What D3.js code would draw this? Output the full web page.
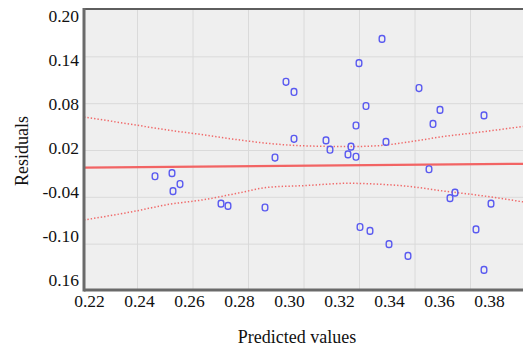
<!DOCTYPE html>
<html>
<head>
<meta charset="utf-8">
<script src="https://cdn.jsdelivr.net/npm/d3@7"></script>
<style>
  html, body { margin: 0; padding: 0; background: #ffffff; }
  svg { display: block; }
  text { font-family: "Liberation Serif", "Times New Roman", serif; fill: #111; }
</style>
</head>
<body>
<svg id="chart" width="523" height="350"></svg>
<script>
// Residuals vs predicted values
const predicted = [0.2464, 0.2532, 0.2536, 0.2564, 0.2728, 0.2756, 0.2904, 0.2944, 0.2988, 0.302,
  0.302, 0.3148, 0.3164, 0.3236, 0.3248, 0.3268, 0.3268, 0.328, 0.3308, 0.3372,
  0.3388, 0.352, 0.356, 0.3576, 0.3604, 0.378, 0.3284, 0.3324, 0.34, 0.3476,
  0.3644, 0.3664, 0.3748, 0.378, 0.3808];
const residuals = [-0.013, -0.009, -0.032, -0.023, -0.048, -0.051, -0.053, 0.011, 0.108, 0.095,
  0.035, 0.033, 0.021, 0.015, 0.025, 0.012, 0.052, 0.132, 0.077, 0.163,
  0.031, 0.100, -0.004, 0.054, 0.072, 0.065, -0.078, -0.083, -0.100, -0.115,
  -0.041, -0.034, -0.081, -0.133, -0.048];

// Fitted line and its confidence band
const fitX = [0.218, 0.394];
const fitY = [-0.002, 0.003];
const bandX = [0.218, 0.238, 0.252, 0.266, 0.279, 0.292, 0.306, 0.324, 0.335, 0.348, 0.362, 0.375, 0.394];
const bandUpper = [0.063, 0.053, 0.046, 0.040, 0.034, 0.029, 0.026, 0.025, 0.026, 0.031, 0.038, 0.043, 0.051];
const bandLower = [-0.069, -0.058, -0.049, -0.043, -0.035, -0.027, -0.025, -0.022, -0.023, -0.026, -0.032, -0.037, -0.046];

// Axis ticks
const xTicks = [0.22, 0.24, 0.26, 0.28, 0.30, 0.32, 0.34, 0.36, 0.38];
const xTickLabels = ["0.22", "0.24", "0.26", "0.28", "0.30", "0.32", "0.34", "0.36", "0.38"];
const yTicks = [0.20, 0.14, 0.08, 0.02, -0.04, -0.10, -0.16];
const yTickLabels = ["0.20", "0.14", "0.08", "0.02", "-0.04", "-0.10", "0.16"];
const gridX = [0.24, 0.26, 0.28, 0.30, 0.32, 0.34, 0.36];
const gridY = [0.14, 0.08, 0.02, -0.04, -0.10];

const svg = d3.select("#chart");
const plot = { left: 84, top: 9, right: 523, bottom: 290 };

const x = d3.scaleLinear().domain([0.22, 0.38]).range([89, 489]);
const xGrid = d3.scaleLinear().domain([0.22, 0.38]).range([82, 526]);
const y = d3.scaleLinear().domain([-0.16, 0.20]).range([291, 10]);
const yLabel = d3.scaleLinear().domain([-0.16, 0.20]).range([279.5, 15.5]);

const defs = svg.append("defs");
defs.append("clipPath").attr("id", "plotClip")
  .append("rect")
  .attr("x", plot.left).attr("y", plot.top)
  .attr("width", plot.right - plot.left).attr("height", plot.bottom - plot.top);

// plot background
svg.append("rect")
  .attr("x", plot.left).attr("y", plot.top)
  .attr("width", plot.right - plot.left).attr("height", plot.bottom - plot.top)
  .attr("fill", "#efefef");

const inner = svg.append("g").attr("clip-path", "url(#plotClip)");

// grid
inner.append("g").selectAll("line.gx").data(gridX).join("line")
  .attr("x1", d => xGrid(d)).attr("x2", d => xGrid(d))
  .attr("y1", plot.top).attr("y2", plot.bottom)
  .attr("stroke", "#dadada").attr("stroke-width", 1);
inner.append("g").selectAll("line.gy").data(gridY).join("line")
  .attr("x1", plot.left).attr("x2", plot.right)
  .attr("y1", d => y(d)).attr("y2", d => y(d))
  .attr("stroke", "#dadada").attr("stroke-width", 1);

// confidence band (dotted)
const bandLine = (vals) => d3.line()
  .x((d, i) => x(bandX[i]))
  .y(d => y(d))
  .curve(d3.curveMonotoneX)(vals);
[bandUpper, bandLower].forEach(vals => {
  inner.append("path")
    .attr("d", bandLine(vals))
    .attr("fill", "none")
    .attr("stroke", "#f06a6a")
    .attr("stroke-width", 1.5)
    .attr("stroke-dasharray", "1.4,2");
});

// fitted line
inner.append("path")
  .attr("d", d3.line().x((d, i) => x(fitX[i])).y(d => y(d))(fitY))
  .attr("fill", "none")
  .attr("stroke", "#f26464")
  .attr("stroke-width", 2.2);

// residual points
inner.append("g").selectAll("rect").data(predicted).join("rect")
  .attr("x", d => x(d) - 2.8)
  .attr("y", (d, i) => y(residuals[i]) - 3.4)
  .attr("width", 5.6).attr("height", 6.8)
  .attr("rx", 2.4).attr("ry", 2.6)
  .attr("fill", "none")
  .attr("stroke", "#5a5af0")
  .attr("stroke-width", 1.4);

// frame
svg.append("line").attr("x1", plot.left).attr("x2", plot.right)
  .attr("y1", plot.top).attr("y2", plot.top)
  .attr("stroke", "#5e5e5e").attr("stroke-width", 2);
svg.append("line").attr("x1", plot.left).attr("x2", plot.right)
  .attr("y1", plot.bottom).attr("y2", plot.bottom)
  .attr("stroke", "#6a6a6a").attr("stroke-width", 3);
svg.append("line").attr("x1", plot.left).attr("x2", plot.left)
  .attr("y1", plot.top - 1).attr("y2", plot.bottom + 1.5)
  .attr("stroke", "#6a6a6a").attr("stroke-width", 3);

// axes (labels only)
const yAxis = d3.axisLeft(yLabel).tickValues(yTicks)
  .tickFormat((d, i) => yTickLabels[i]).tickSize(0).tickPadding(0);
const gy = svg.append("g").attr("transform", "translate(79,0)").call(yAxis);
gy.select(".domain").remove();
gy.selectAll("text").attr("font-size", 17.5).attr("font-family", "Liberation Serif").attr("fill", "#111");

const xAxis = d3.axisBottom(x).tickValues(xTicks)
  .tickFormat((d, i) => xTickLabels[i]).tickSize(0).tickPadding(0);
const gx = svg.append("g").attr("transform", "translate(0,295)").call(xAxis);
gx.select(".domain").remove();
gx.selectAll("text").attr("font-size", 17.5).attr("font-family", "Liberation Serif").attr("fill", "#111");

// axis titles
svg.append("text")
  .attr("x", 297).attr("y", 343)
  .attr("text-anchor", "middle")
  .attr("font-size", 18)
  .text("Predicted values");
svg.append("text")
  .attr("transform", "translate(28,151) rotate(-90)")
  .attr("text-anchor", "middle")
  .attr("font-size", 18)
  .text("Residuals");
</script>
</body>
</html>
